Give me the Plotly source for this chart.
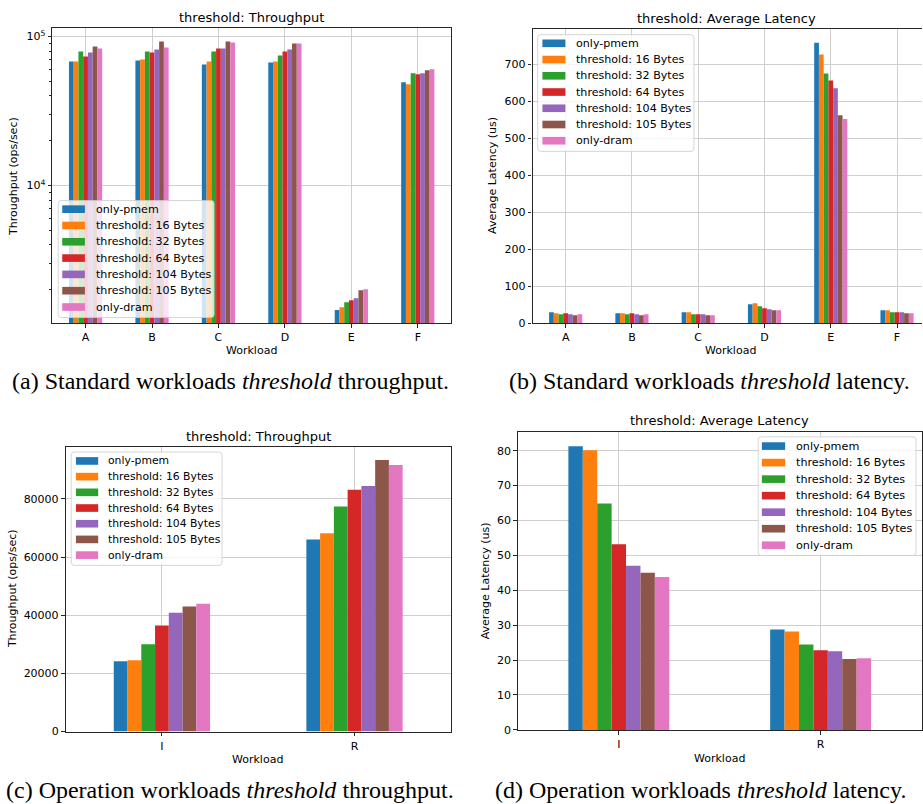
import plotly.graph_objects as go

# ---------------- data ----------------
series_names = ["only-pmem", "threshold: 16 Bytes", "threshold: 32 Bytes",
                "threshold: 64 Bytes", "threshold: 104 Bytes",
                "threshold: 105 Bytes", "only-dram"]
series_colors = ["#1f77b4", "#ff7f0e", "#2ca02c", "#d62728",
                 "#9467bd", "#8c564b", "#e377c2"]

workloads_std = ["A", "B", "C", "D", "E", "F"]
workloads_op = ["I", "R"]

# (a) standard workloads throughput (ops/sec), one row per series
std_throughput = [
    [68200, 69200, 65100, 67100, 1459, 49400],
    [68200, 70300, 68200, 68200, 1528, 47900],
    [79500, 79500, 79500, 74700, 1649, 56700],
    [73600, 78200, 83200, 79500, 1701, 55900],
    [78200, 81900, 83200, 81900, 1754, 56700],
    [85800, 92600, 92600, 89800, 1983, 59400],
    [83200, 84500, 91200, 89800, 2013, 60300],
]
# (b) standard workloads average latency (us)
std_latency = [
    [29.5, 26.8, 29.5, 50.9, 758, 34.8],
    [26.8, 26.8, 29.5, 53.6, 726, 34.8],
    [24.0, 24.0, 24.0, 45.5, 675, 29.5],
    [26.8, 26.8, 24.0, 40.2, 656, 29.5],
    [24.0, 24.0, 24.0, 37.5, 635, 29.5],
    [21.4, 21.4, 21.4, 34.8, 562, 26.8],
    [24.0, 24.0, 21.4, 34.8, 552, 26.8],
]
# (c) operation workloads throughput (ops/sec)
op_throughput = [
    [24200, 66100],
    [24500, 68200],
    [30000, 77400],
    [36500, 83200],
    [40900, 84500],
    [43000, 93400],
    [44000, 91700],
]
# (d) operation workloads average latency (us)
op_latency = [
    [81.3, 28.8],
    [80.1, 28.2],
    [64.9, 24.5],
    [53.2, 22.8],
    [47.0, 22.5],
    [45.0, 20.3],
    [43.8, 20.5],
]

log_major_ticks = [1e4, 1e5]
log_major_text = ["10<sup>4</sup>", "10<sup>5</sup>"]
log_minor_ticks = [2000, 3000, 4000, 5000, 6000, 7000, 8000, 9000,
                   20000, 30000, 40000, 50000, 60000, 70000, 80000, 90000]

captions = [
    "(a) Standard workloads <i>threshold</i> throughput.",
    "(b) Standard workloads <i>threshold</i> latency.",
    "(c) Operation workloads <i>threshold</i> throughput.",
    "(d) Operation workloads <i>threshold</i> latency.",
]

# ---------------- layout helpers ----------------
W, H = 923, 804
FONT = "DejaVu Sans"
CAP_FONT = "Liberation Serif"
GRID = "#cfcfcf"
SPINE = "#262626"


def px(x, y):
    return x / W, 1 - y / H


fig = go.Figure()

panels = [
    ("x", "y", workloads_std, std_throughput),
    ("x2", "y2", workloads_std, std_latency),
    ("x3", "y3", workloads_op, op_throughput),
    ("x4", "y4", workloads_op, op_latency),
]
for xa, ya, cats, rows in panels:
    for name, color, vals in zip(series_names, series_colors, rows):
        fig.add_trace(go.Bar(x=cats, y=vals, name=name, marker_color=color,
                             marker_line_width=0, xaxis=xa, yaxis=ya,
                             showlegend=False))

common_axis = dict(showline=True, linecolor=SPINE, linewidth=1.2,
                   ticks="outside", ticklen=3.7, tickwidth=1, tickcolor=SPINE,
                   showgrid=True, gridcolor=GRID, gridwidth=1.2,
                   zeroline=False, layer="above traces",
                   tickfont=dict(family=FONT, size=11, color="black"))


def xdom(x0, x1):
    return [x0 / W, min(x1 / W, 1.0)]


def ydom(ytop, ybot):
    return [1 - ybot / H, 1 - ytop / H]


fig.update_layout(
    width=W, height=H, margin=dict(l=0, r=0, t=0, b=0),
    paper_bgcolor="white", plot_bgcolor="white",
    barmode="group", bargap=0.5, bargroupgap=0,
    font=dict(family=FONT, color="black"),
    xaxis=dict(common_axis, domain=xdom(52.4, 451.5), type="category",
               range=[-0.5, 5.5], mirror=True, anchor="y"),
    yaxis=dict(common_axis, domain=ydom(28.3, 326), type="log",
               range=[3.0765, 5.0575], tickvals=log_major_ticks,
               ticktext=log_major_text, mirror=True, anchor="x",
               minor=dict(tickvals=log_minor_ticks, ticks="outside",
                          ticklen=2.2, tickcolor=SPINE, showgrid=False)),
    xaxis2=dict(common_axis, domain=xdom(533.1, 923), type="category",
                range=[-0.5, (923 - 566.3) / 66.34], mirror=True,
                anchor="y2"),
    yaxis2=dict(common_axis, domain=ydom(29.3, 326), range=[0, 795],
                dtick=100, tick0=0, mirror=False, anchor="x2"),
    xaxis3=dict(common_axis, domain=xdom(65.7, 451.3), type="category",
                range=[-0.5, 1.5], mirror=True, anchor="y3"),
    yaxis3=dict(common_axis, domain=ydom(450.7, 738), range=[0, 97950],
                dtick=20000, tick0=0, tickformat="d", mirror=True,
                anchor="x3"),
    xaxis4=dict(common_axis, domain=xdom(518.5, 922.5), type="category",
                range=[-0.5, 1.5], mirror=True, anchor="y4"),
    yaxis4=dict(common_axis, domain=ydom(435.3, 736.3), range=[0, 85.5],
                dtick=10, tick0=0, mirror=True, anchor="x4"),
)

annotations = []
shapes = []


def text(x, y, s, size, angle=0, family=FONT, xanchor="center"):
    xp, yp = px(x, y)
    annotations.append(dict(x=xp, y=yp, xref="paper", yref="paper", text=s,
                            showarrow=False, textangle=angle,
                            xanchor=xanchor, yanchor="middle",
                            font=dict(family=family, size=size, color="black")))


# titles
text(252, 17.3, "threshold: Throughput", 13)
text(727.5, 18.3, "threshold: Average Latency", 13)
text(258.5, 440, "threshold: Throughput", 13)
text(720.5, 424, "threshold: Average Latency", 13)

# axis titles
text(251.7, 354, "Workload", 11)
text(731.7, 354, "Workload", 11)
text(258, 766, "Workload", 11)
text(720.7, 765, "Workload", 11)
text(14, 177.5, "Throughput (ops/sec)", 11, angle=-90)
text(493, 177, "Average Latency (us)", 11, angle=-90)
text(13.3, 594, "Throughput (ops/sec)", 11, angle=-90)
text(486, 586, "Average Latency (us)", 11, angle=-90)

# captions
text(230.5, 384, captions[0], 24, family=CAP_FONT)
text(710, 384, captions[1], 24, family=CAP_FONT)
text(230.5, 797, captions[2], 24, family=CAP_FONT)
text(701.7, 797, captions[3], 24, family=CAP_FONT)


def legend(box, patch_x, row0, step, text_x, size):
    x0, y0, x1, y1 = box
    r = 3.0
    X0, Y0 = px(x0, y0)
    X1, Y1 = px(x1, y1)
    rx, ry = r / W, r / H
    path = (f"M {X0+rx},{Y0} L {X1-rx},{Y0} Q {X1},{Y0} {X1},{Y0-ry} "
            f"L {X1},{Y1+ry} Q {X1},{Y1} {X1-rx},{Y1} L {X0+rx},{Y1} "
            f"Q {X0},{Y1} {X0},{Y1+ry} L {X0},{Y0-ry} Q {X0},{Y0} {X0+rx},{Y0} Z")
    shapes.append(dict(type="path", path=path, xref="paper", yref="paper",
                       fillcolor="rgba(255,255,255,0.8)",
                       line=dict(color="rgba(204,204,204,0.8)", width=1),
                       layer="above"))
    for i, (name, color) in enumerate(zip(series_names, series_colors)):
        yc = row0 + i * step
        a, b = px(patch_x[0], yc - 3.85)
        c, d = px(patch_x[1], yc + 3.85)
        shapes.append(dict(type="rect", xref="paper", yref="paper",
                           x0=a, x1=c, y0=d, y1=b, fillcolor=color,
                           line=dict(width=0), layer="above"))
        text(text_x, yc, name, size, xanchor="left")


legend((58.3, 202.3, 214.3, 320.3), (62.3, 85.0), 211.0, 16.45, 94.0, 11.1)
legend((538.3, 35.0, 694.7, 152.7), (543.0, 566.0), 43.7, 16.38, 574.3, 11.1)
legend((71.3, 456.0, 222.3, 570.3), (76.0, 98.3), 465.0, 15.83, 106.0, 10.8)
legend((759.0, 440.7, 917.0, 560.3), (762.7, 786.0), 450.0, 16.67, 795.0, 11.2)

fig.update_layout(annotations=annotations, shapes=shapes)
fig.write_html("out.html")
